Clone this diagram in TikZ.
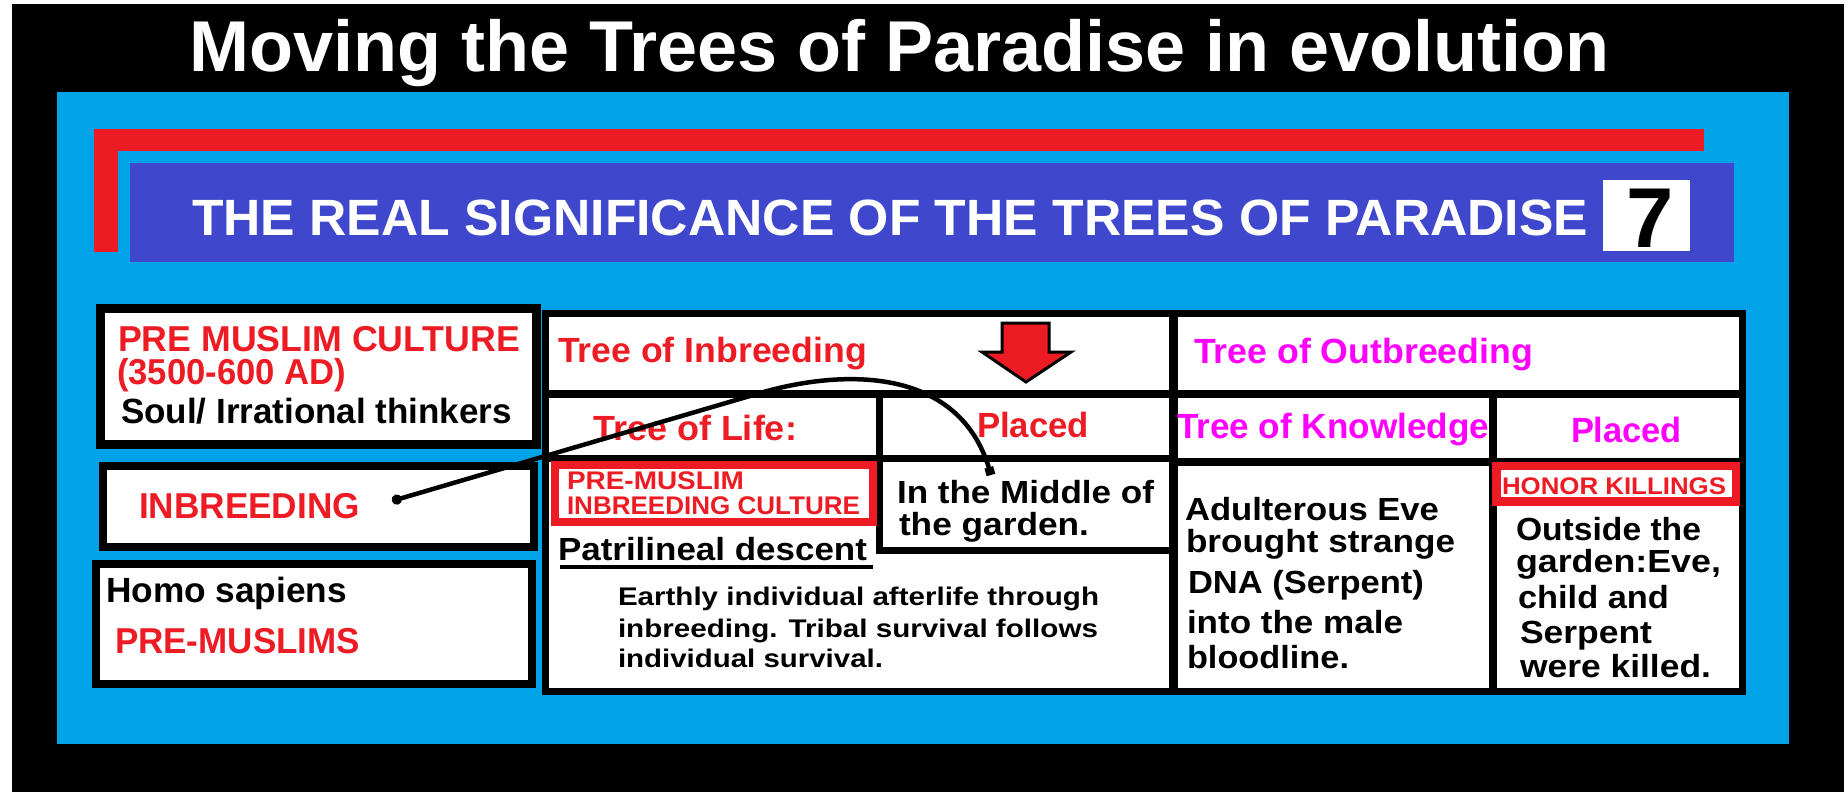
\documentclass[tikz,border=0pt]{standalone}
\usepackage{fontspec}
\setmainfont{Liberation Sans}
\usetikzlibrary{arrows.meta}
\definecolor{pblue}{RGB}{0,162,232}
\definecolor{pred}{RGB}{237,28,36}
\definecolor{pviolet}{RGB}{63,72,204}
\definecolor{pmag}{RGB}{255,0,255}
\newcommand{\sz}[1]{\fontsize{#1}{#1}\selectfont\bfseries}
\newcommand{\fitw}[2]{\resizebox{#1pt}{\height}{#2}}
\tikzset{
  txt/.style={anchor=base west, inner sep=0pt, outer sep=0pt},
  wbox/.style={draw=black, fill=white, inner sep=0pt, outer sep=0pt},
  rbox/.style={draw=pred, fill=white, inner sep=0pt, outer sep=0pt},
  gridline/.style={draw=black, line width=8pt},
  conn/.style={draw=black, line width=4.5pt, arrows={Circle[length=10pt]-Square[length=8pt,width=9pt]}}
}
\begin{document}
\begin{tikzpicture}[x=1pt,y=-1pt]
\useasboundingbox (0,0) rectangle (1848,792);
\fill[white] (0,0) rectangle (1848,792);
\fill[black] (12,4) rectangle (1844,792);
\fill[pblue] (57,92) rectangle (1789,744);
\fill[pred] (94,129) rectangle (1704,151);
\fill[pred] (94,129) rectangle (118,252);
\fill[pviolet] (130,163) rectangle (1734,262);
\fill[white] (1603,180) rectangle (1690,251);

% title texts
\node[txt, text=white, font=\sz{72}] (title) at (189,72) {\fitw{1421}{Moving the Trees of Paradise in evolution}};
\node[txt, text=white, font=\sz{51}] (subtitle) at (192,235) {\fitw{1396}{THE REAL SIGNIFICANCE OF THE TREES OF PARADISE}};
\node[anchor=base, inner sep=0pt, font=\sz{85}] (seven) at (1650,247) {7};

% left boxes
\node[wbox, line width=9pt, minimum width=436pt, minimum height=136pt] (box1) at (318.5,376.5) {};
\node[wbox, line width=8pt, minimum width=431pt, minimum height=81pt] (box2) at (318,506) {};
\node[wbox, line width=8pt, minimum width=436pt, minimum height=120pt] (box3) at (314,624) {};

\node[txt, text=pred, font=\sz{36}] (pmc) at (118,351) {\fitw{402}{PRE MUSLIM CULTURE}};
\node[txt, text=pred, font=\sz{36}] (yrs) at (117,384) {\fitw{229}{(3500-600 AD)}};
\node[txt, font=\sz{35}] (soul) at (121,423) {\fitw{391}{Soul/ Irrational thinkers}};
\node[txt, text=pred, font=\sz{36}] (inb) at (139,518) {\fitw{221}{INBREEDING}};
\node[txt, font=\sz{35}] (homo) at (106,602) {\fitw{241}{Homo sapiens}};
\node[txt, text=pred, font=\sz{36}] (prem) at (115,653) {\fitw{245}{PRE-MUSLIMS}};

% table
\node[wbox, line width=7pt, minimum width=1197pt, minimum height=377.5pt] (table) at (1143.5,502.25) {};
\draw[gridline] (545,394) -- (1742,394);
\draw[gridline, line width=9pt] (1173,313) -- (1173,691);
\draw[gridline, line width=7pt] (545,458) -- (1173,458);
\draw[gridline, line width=7pt] (879,394) -- (879,554);
\draw[gridline, line width=7pt] (876,550) -- (1173,550);
\draw[gridline] (1173,462) -- (1742,462);
\draw[gridline] (1493,394) -- (1493,691);

% red boxes
\node[rbox, line width=8pt, minimum width=318.5pt, minimum height=57.5pt] (pmbox) at (713.75,493.25) {};
\node[rbox, line width=8.5pt, minimum width=239.5pt, minimum height=35.5pt] (honbox) at (1616.25,483.75) {};

% table texts
\node[txt, text=pred, font=\sz{35}] (tinb) at (558,362) {\fitw{309}{Tree of Inbreeding}};
\node[txt, text=pmag, font=\sz{35}] (toutb) at (1194,363) {\fitw{339}{Tree of Outbreeding}};
\node[txt, text=pred, font=\sz{35}] (tlife) at (593,440) {\fitw{204}{Tree of Life:}};
\node[txt, text=pred, font=\sz{35}] (placed1) at (977,437) {\fitw{112}{Placed}};
\node[txt, text=pmag, font=\sz{35}] (tknow) at (1177,438) {\fitw{312}{Tree of Knowledge}};
\node[txt, text=pmag, font=\sz{35}] (placed2) at (1571,442) {\fitw{111}{Placed}};

\node[txt, text=pred, font=\sz{25.5}] (pm1) at (567,489) {\fitw{177}{PRE-MUSLIM}};
\node[txt, text=pred, font=\sz{25.5}] (pm2) at (567,514) {\fitw{293}{INBREEDING CULTURE}};
\node[txt, font=\sz{32}] (patri) at (558,560) {\fitw{309}{Patrilineal descent}};
\draw[line width=4pt] (560,567) -- (873,567);

\node[txt, font=\sz{32}] (mid1) at (897,503) {\fitw{257}{In the Middle of}};
\node[txt, font=\sz{32}] (mid2) at (899,535) {\fitw{190}{the garden.}};

\node[txt, font=\sz{25.5}] (e1) at (618,605) {\fitw{481}{Earthly individual afterlife through}};
\node[txt, font=\sz{25.5}] (e2) at (618,637) {\fitw{480}{inbreeding. Tribal survival follows}};
\node[txt, font=\sz{25.5}] (e3) at (618,667) {\fitw{265}{individual survival.}};

\node[txt, text=pred, font=\sz{24}] (honor) at (1502,494) {\fitw{224}{HONOR KILLINGS}};

\node[txt, font=\sz{32}] (a1) at (1185,520) {\fitw{254}{Adulterous Eve}};
\node[txt, font=\sz{32}] (a2) at (1186,552) {\fitw{269}{brought strange}};
\node[txt, font=\sz{32}] (a3) at (1188,593) {\fitw{236}{DNA (Serpent)}};
\node[txt, font=\sz{32}] (a4) at (1187,633) {\fitw{216}{into the male}};
\node[txt, font=\sz{32}] (a5) at (1187,668) {\fitw{162}{bloodline.}};

\node[txt, font=\sz{32}] (o1) at (1516,540) {\fitw{185}{Outside the}};
\node[txt, font=\sz{32}] (o2) at (1516,572) {\fitw{205}{garden:Eve,}};
\node[txt, font=\sz{32}] (o3) at (1518,608) {\fitw{151}{child and}};
\node[txt, font=\sz{32}] (o4) at (1520,643) {\fitw{132}{Serpent}};
\node[txt, font=\sz{32}] (o5) at (1520,677) {\fitw{191}{were killed.}};

% red down arrow
\draw[fill=pred, draw=black, line width=3pt, line join=miter]
  (1002,323) -- (1049,323) -- (1049,352) -- (1071,352) -- (1026,382) -- (982,352) -- (1002,352) -- cycle;

% connector
\coordinate (cstart) at (392,501);
\coordinate (cbend) at (760,393);
\coordinate (cend) at (991,475);
\draw[conn] (cstart) -- (cbend) .. controls (850,367) and (960,370) .. (cend);
\end{tikzpicture}
\end{document}
